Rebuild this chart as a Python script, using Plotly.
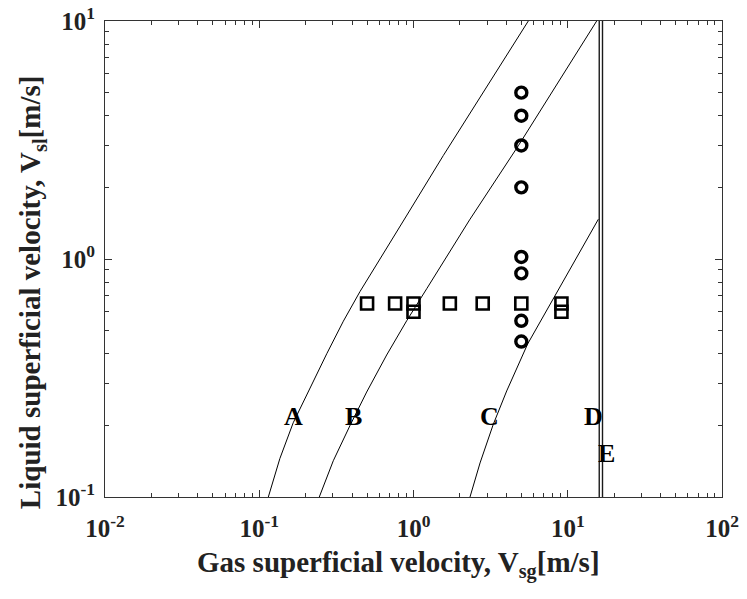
import math
import plotly.graph_objects as go

# ---- data ----
circle_vsg = [5.0, 5.0, 5.0, 5.0, 5.0, 5.0, 5.0, 5.0]
circle_vsl = [5.0, 4.0, 3.0, 2.0, 1.02, 0.87, 0.55, 0.45]

square_vsg = [0.50, 0.76, 1.0, 1.0, 1.72, 2.81, 5.0, 9.1, 9.1]
square_vsl = [0.65, 0.65, 0.65, 0.60, 0.65, 0.65, 0.65, 0.65, 0.60]

curve_a_vsg = [0.1145, 0.136, 0.166, 0.213, 0.274, 0.351, 0.450, 0.907, 1.56, 5.55]
curve_a_vsl = [0.100, 0.145, 0.205, 0.288, 0.400, 0.548, 0.730, 1.53, 2.72, 10.0]

curve_b_vsg = [0.245, 0.302, 0.388, 0.497, 0.670, 0.903, 1.218, 2.31, 4.78, 8.75, 15.4]
curve_b_vsl = [0.100, 0.142, 0.200, 0.276, 0.395, 0.550, 0.750, 1.46, 2.99, 5.55, 10.0]

curve_c_vsg = [2.324, 2.70, 3.29, 4.02, 5.50, 8.26, 15.8]
curve_c_vsl = [0.100, 0.139, 0.202, 0.279, 0.440, 0.700, 1.47]

line_d_vsg = [16.0, 16.0]
line_e_vsg = [16.8, 16.8]
vline_vsl = [0.1, 10.0]

label_text = ["A", "B", "C", "D", "E"]
label_vsg = [0.166, 0.407, 3.13, 14.6, 17.9]
label_vsl = [0.2175, 0.2175, 0.2175, 0.2175, 0.1527]

x_tickvals = [0.01, 0.1, 1, 10, 100]
x_ticktext = ["<b>10<sup>-2</sup></b>", "<b>10<sup>-1</sup></b>", "<b>10<sup>0</sup></b>",
              "<b>10<sup>1</sup></b>", "<b>10<sup>2</sup></b>"]
y_tickvals = [0.1, 1, 10]
y_ticktext = ["<b>10<sup>-1</sup></b>", "<b>10<sup>0</sup></b>", "<b>10<sup>1</sup></b>"]

x_title = "<b>Gas superficial velocity, V<sub>sg</sub>[m/s]</b>"
y_title = "<b>Liquid superficial velocity, V<sub>sl</sub>[m/s]</b>"

FONT = "Liberation Serif"

fig = go.Figure()

line_style = dict(color="black", width=1)
fig.add_trace(go.Scatter(x=curve_a_vsg, y=curve_a_vsl, mode="lines", line=line_style))
fig.add_trace(go.Scatter(x=curve_b_vsg, y=curve_b_vsl, mode="lines", line=line_style))
fig.add_trace(go.Scatter(x=curve_c_vsg, y=curve_c_vsl, mode="lines", line=line_style))
fig.add_trace(go.Scatter(x=line_d_vsg, y=vline_vsl, mode="lines", line=dict(color="#1a1a1a", width=1.4)))
fig.add_trace(go.Scatter(x=line_e_vsg, y=vline_vsl, mode="lines", line=dict(color="#1a1a1a", width=1.4)))

fig.add_trace(go.Scatter(
    x=square_vsg, y=square_vsl, mode="markers",
    marker=dict(symbol="square-open", size=12, color="black", line=dict(width=2.6, color="black")),
))
fig.add_trace(go.Scatter(
    x=circle_vsg, y=circle_vsl, mode="markers",
    marker=dict(symbol="circle-open", size=11, color="black", line=dict(width=3.4, color="black")),
))

# annotations on log axes take log10 positions
for t, xv, yv in zip(label_text, label_vsg, label_vsl):
    fig.add_annotation(x=math.log10(xv), y=math.log10(yv), xref="x", yref="y",
                       text="<b>%s</b>" % t, showarrow=False,
                       font=dict(family=FONT, size=26, color="black"))

# axis titles as paper-anchored text so they sit where the reference has them
fig.add_annotation(x=0.475, y=-0.142, xref="paper", yref="paper", xanchor="center", yanchor="middle",
                   text=x_title, showarrow=False, font=dict(family=FONT, size=29, color="#222222"))
fig.add_annotation(x=-0.117, y=0.43, xref="paper", yref="paper", xanchor="center", yanchor="middle",
                   text=y_title, textangle=-90, showarrow=False,
                   font=dict(family=FONT, size=29, color="#222222"))

x_minor = [m * 10 ** e for e in range(-2, 2) for m in range(2, 10)]
y_minor = [m * 10 ** e for e in range(-1, 1) for m in range(2, 10)]

axis_common = dict(
    type="log", showgrid=False, zeroline=False, showline=True, linecolor="#333333",
    linewidth=1, mirror="ticks", ticks="inside", ticklen=7, tickcolor="#333333",
    tickfont=dict(family=FONT, size=25, color="#222222"), automargin=False,
)

fig.update_xaxes(
    range=[-2, 2], tickmode="array", tickvals=x_tickvals, ticktext=x_ticktext,
    minor=dict(tickvals=x_minor, ticks="inside", ticklen=4, tickcolor="#333333"),
    ticklabelstandoff=9,
    **axis_common,
)
fig.update_yaxes(
    range=[-1, 1], tickmode="array", tickvals=y_tickvals, ticktext=y_ticktext,
    minor=dict(tickvals=y_minor, ticks="inside", ticklen=4, tickcolor="#333333"),
    ticklabelstandoff=4,
    **axis_common,
)

fig.update_layout(
    width=747, height=599,
    margin=dict(l=105, r=25, t=21, b=102),
    paper_bgcolor="white", plot_bgcolor="white",
    showlegend=False,
    font=dict(family=FONT, color="#222222"),
)

fig.write_html("out.html")
